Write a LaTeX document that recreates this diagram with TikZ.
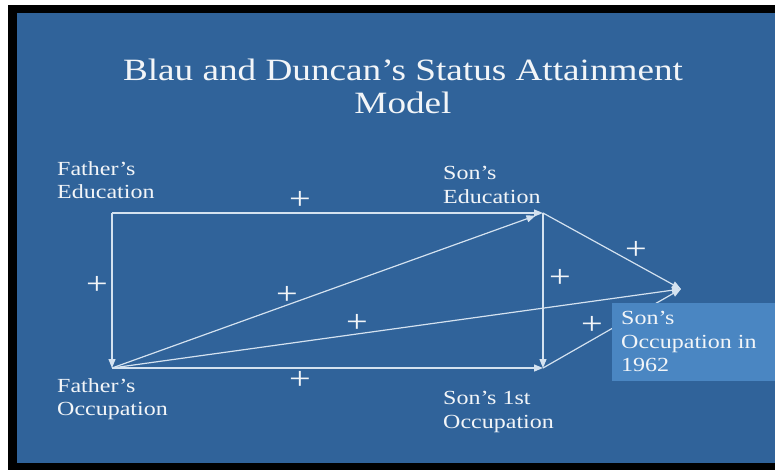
\documentclass[tikz,border=0pt]{standalone}
\usepackage{fontspec}
\setmainfont[FakeStretch=1.2]{Liberation Serif}
\usetikzlibrary{arrows.meta}
\definecolor{bgblue}{HTML}{30639A}
\definecolor{boxblue}{HTML}{4A86C2}
\definecolor{linec}{HTML}{D4E2F0}
\definecolor{txt}{HTML}{F2F5F8}
\begin{document}
\begin{tikzpicture}[x=1pt,y=-1pt,
  lbl/.style={anchor=north west, inner sep=0pt, align=left, text=txt, font=\fontsize{20}{23.5}\selectfont},
  ttl/.style={anchor=north, inner sep=0pt, align=center, text=txt, font=\fontsize{31}{33}\selectfont},
  pl/.style={inner sep=0pt, text=txt, font=\fontsize{32}{32}\selectfont},
  conn/.style={draw=linec, line width=1.2pt, -{Triangle[length=9pt,width=7pt]}}]
\useasboundingbox (0,0) rectangle (775,470);
\fill[white] (0,0) rectangle (775,470);
\fill[black] (8,5) rectangle (775,470);
\fill[bgblue] (17,13) rectangle (775,463);

% title
\node[ttl] (title) at (403,59) {Blau and Duncan’s Status Attainment\\Model};

% labels
\node[lbl] (feL) at (57,161) {Father’s\\Education};
\node[lbl] (seL) at (443,166) {Son’s\\Education};
\node[lbl] (foL) at (57,378) {Father’s\\Occupation};
\node[lbl] (s1L) at (443,391) {Son’s 1st\\Occupation};

% corner points
\coordinate (FE) at (112,213);
\coordinate (SE) at (543,213);
\coordinate (FO) at (112,368);
\coordinate (S1) at (543,368);
\coordinate (SO) at (681,289);

% connectors
\draw[conn] (FE) -- (SE);
\draw[conn] (FE) -- (FO);
\draw[conn, shorten >=8pt] (FO) -- (SE);
\draw[conn] (SE) -- (S1);
\draw[conn] (FO) -- (S1);
\draw[conn] (SE) -- (SO);
\draw[conn] (FO) -- (SO);
\draw[conn] (S1) -- (SO);

% highlighted box
\node[anchor=north west, fill=boxblue, inner sep=0pt, minimum width=163pt, minimum height=78pt] (soBox) at (612,303) {};
\node[lbl] (soL) at (621,311) {Son’s\\Occupation in\\1962};

% plus signs
\node[pl] (p1) at (300,200) {+};
\node[pl] (p2) at (97,285) {+};
\node[pl] (p3) at (287,295) {+};
\node[pl] (p4) at (357,323) {+};
\node[pl] (p5) at (300,380) {+};
\node[pl] (p6) at (560,278) {+};
\node[pl] (p7) at (636,250) {+};
\node[pl] (p8) at (592,325) {+};
\end{tikzpicture}
\end{document}
